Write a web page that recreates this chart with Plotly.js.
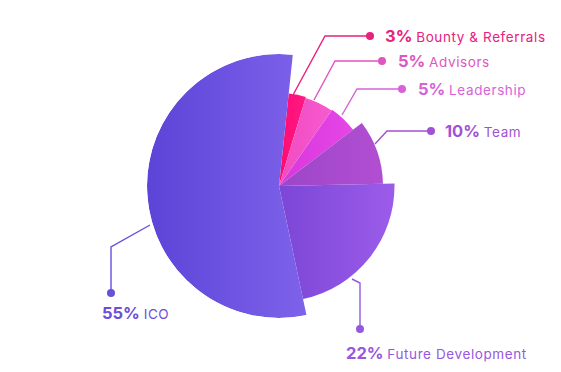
<!DOCTYPE html>
<html>
<head>
<meta charset="utf-8">
<script src="https://cdn.plot.ly/plotly-3.0.1.min.js"></script>
<style>html,body{margin:0;padding:0;background:#fff;}#chart{width:561px;height:372px;}</style>
</head>
<body>
<div id="chart"></div>
<script>
// ---- data ----
const categories = ['Bounty & Referrals', 'Advisors', 'Leadership', 'Team', 'Future Development', 'ICO'];
const shares = [3, 5, 5, 10, 22, 55];            // percent of allocation
const percentLabels = ['3%', '5%', '5%', '10%', '22%', '55%'];

// ---- styles ----
const sliceRadius = [93, 92, 93, 104, 115.5, 132];
const gradLeft  = ['#ff0a74', '#f04cc0', '#d838dc', '#9c46c8', '#7c46d6', '#5c44d8'];
const gradRight = ['#ff1a84', '#f75ad0', '#e646e6', '#b24ed2', '#9c5cea', '#7e62ea'];
const solid     = ['#ff1080', '#f452c8', '#e040e0', '#a84bcc', '#8b50e0', '#6a52e0'];
const textColor = ['#e8207e', '#e055c0', '#d862d8', '#a152d4', '#9658de', '#6a4fd8'];
const startAngle = 6;

const W = 561, H = 372;
const cx = 279, cy = 186, R = 132;
const px = x => x / W, py = y => 1 - y / H;

// angular positions derived from shares
const widths = shares.map(s => s * 3.6);
const thetas = [];
let acc = startAngle;
widths.forEach(w => { thetas.push(acc + w / 2); acc += w; });

const trace = {
  type: 'barpolar',
  r: sliceRadius,
  theta: thetas,
  width: widths,
  text: categories,
  marker: { color: solid, line: { width: 0 } },
  hoverinfo: 'text',
  showlegend: false
};

// label layout (pixel positions)
const lineGeom = [
  [[293, 95], [325, 36], [370, 36]],
  [[314, 100], [335, 61], [382, 61]],
  [[342, 115], [357, 89], [402, 89]],
  [[375, 144], [387, 131], [431, 131]],
  [[352, 279], [360, 283], [360, 329]],
  [[150, 225], [111, 247], [111, 293]]
];
const labelPos = [[384, 36], [397, 61], [417, 89], [444, 131], [345, 353], [101, 313]];

const shapes = [];
const annotations = [];
categories.forEach((c, i) => {
  const pts = lineGeom[i];
  const d = pts.map((p, k) => (k ? 'L' : 'M') + px(p[0]) + ',' + py(p[1])).join(' ');
  shapes.push({ type: 'path', xref: 'paper', yref: 'paper', path: d,
    line: { color: textColor[i], width: 1.4 } });
  const e = pts[2];
  shapes.push({ type: 'circle', xref: 'paper', yref: 'paper',
    x0: px(e[0] - 4), x1: px(e[0] + 4), y0: py(e[1] + 4), y1: py(e[1] - 4),
    fillcolor: textColor[i], line: { width: 0 } });
  annotations.push({
    xref: 'paper', yref: 'paper', x: px(labelPos[i][0]), y: py(labelPos[i][1]),
    xanchor: 'left', yanchor: 'middle', showarrow: false, borderpad: 0,
    text: '<b><span style="font-size:16.5px">' + percentLabels[i] + '</span></b> ' +
          '<span style="letter-spacing:0.6px">' + c + '</span>',
    font: { family: 'Inter, "Open Sans", sans-serif', size: 13.5, color: textColor[i] }
  });
});

const layout = {
  width: W, height: H,
  margin: { l: 0, r: 0, t: 0, b: 0 },
  paper_bgcolor: '#ffffff',
  showlegend: false,
  polar: {
    domain: { x: [px(cx - R), px(cx + R)], y: [py(cy + R), py(cy - R)] },
    bgcolor: 'rgba(0,0,0,0)',
    bargap: 0,
    hole: 0,
    radialaxis: { range: [0, R], visible: false, showgrid: false },
    angularaxis: { rotation: 90, direction: 'clockwise', visible: false, showgrid: false }
  },
  shapes: shapes,
  annotations: annotations
};

Plotly.newPlot('chart', [trace], layout, { staticPlot: true, displayModeBar: false }).then(gd => {
  try {
    const svg = gd.querySelector('svg.main-svg');
    const defs = svg.querySelector('defs');
    const NS = 'http://www.w3.org/2000/svg';
    const paths = gd.querySelectorAll('.barpolarlayer .point path, .barlayer .point path');
    paths.forEach((p, i) => {
      if (i >= categories.length) return;
      const g = document.createElementNS(NS, 'linearGradient');
      g.setAttribute('id', 'sliceGrad' + i);
      g.setAttribute('x1', '0'); g.setAttribute('y1', '0');
      g.setAttribute('x2', '1'); g.setAttribute('y2', '0');
      [[0, gradLeft[i]], [1, gradRight[i]]].forEach(s => {
        const st = document.createElementNS(NS, 'stop');
        st.setAttribute('offset', s[0]);
        st.setAttribute('stop-color', s[1]);
        g.appendChild(st);
      });
      defs.appendChild(g);
      p.style.fill = 'url(#sliceGrad' + i + ')';
    });
  } catch (e) {}
});
</script>
</body>
</html>
